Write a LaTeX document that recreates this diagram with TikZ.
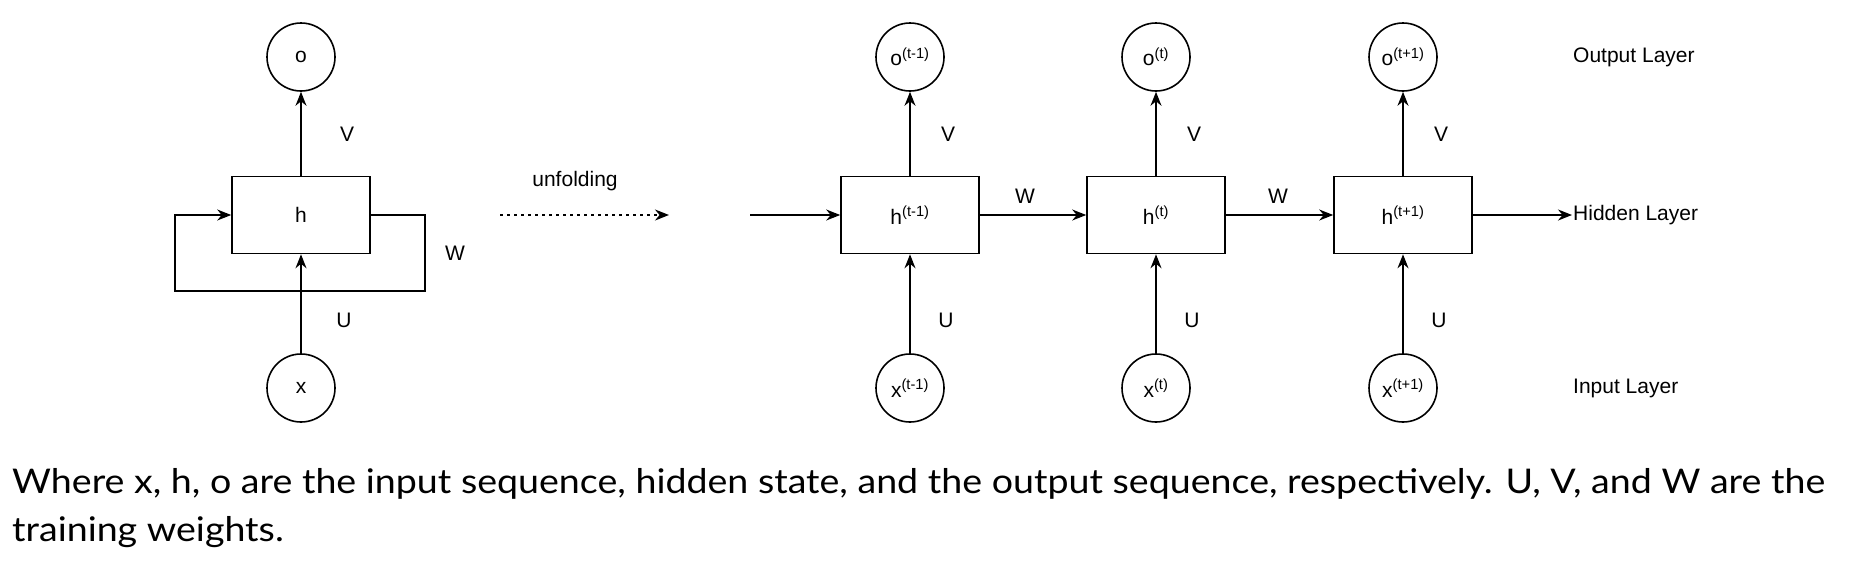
\documentclass[tikz,border=0pt]{standalone}
\usepackage{fontspec}
\setmainfont{Liberation Sans}
\newfontfamily\capfont{Lato}
\usetikzlibrary{arrows.meta}
\begin{document}
\begin{tikzpicture}[x=1pt,y=-1pt,
  every node/.style={font=\fontsize{21}{24}\selectfont},
  circ/.style={draw,circle,line width=1.6pt,minimum size=68pt,inner sep=0pt},
  box/.style={draw,rectangle,line width=1.6pt,minimum width=138pt,minimum height=77pt,inner sep=0pt},
  con/.style={line width=1.6pt,-{Stealth[length=14pt,width=11pt]}},
  lab/.style={inner sep=0pt}]
\useasboundingbox (0,0) rectangle (1868,576);
% folded
\node[circ] (o) at (301,57) {o};
\node[box] (h) at (301,215) {h};
\node[circ] (x) at (301,388) {x};
\draw[con] (h) -- (o);
\draw[con] (x) -- (h);
\draw[con] (h.east) -- (425,215) -- (425,291) -- (175,291) -- (175,215) -- (h.west);
\node[lab] at (347,134) {V};
\node[lab] at (344,320) {U};
\node[lab] at (455,253) {W};
\node[lab] at (575,181) {unfolding};
\coordinate (d1) at (500,215);
\coordinate (d2) at (669,215);
\draw[con,dash pattern=on 3pt off 4pt] (d1) -- (d2);
% unfolded
\foreach \i/\cx/\s in {1/910/t-1,2/1156/t,3/1403/t+1}{
  \node[circ] (o\i) at (\cx,57) {o\textsuperscript{(\s)}};
  \node[box] (h\i) at (\cx,215) {h\textsuperscript{(\s)}};
  \node[circ] (x\i) at (\cx,388) {x\textsuperscript{(\s)}};
  \draw[con] (h\i) -- (o\i);
  \draw[con] (x\i) -- (h\i);
  \node[lab] at (\cx+38,134) {V};
  \node[lab] at (\cx+36,320) {U};
}
\coordinate (in) at (750,215);
\coordinate (out) at (1572,215);
\draw[con] (in) -- (h1);
\draw[con] (h1) -- (h2);
\draw[con] (h2) -- (h3);
\draw[con] (h3) -- (out);
\node[lab] at (1025,196) {W};
\node[lab] at (1278,196) {W};
\node[lab,anchor=west] at (1573,57) {Output Layer};
\node[lab,anchor=west] at (1573,215) {Hidden Layer};
\node[lab,anchor=west] at (1573,388) {Input Layer};
\node[lab,anchor=west,align=left,font=\capfont\fontsize{34}{48}\selectfont] at (12,508) {\scalebox{1.105}[1]{Where x, h, o are the input sequence, hidden state, and the output sequence, respectively. U, V, and W are the}\\\scalebox{1.105}[1]{training weights.}};
\end{tikzpicture}
\end{document}
